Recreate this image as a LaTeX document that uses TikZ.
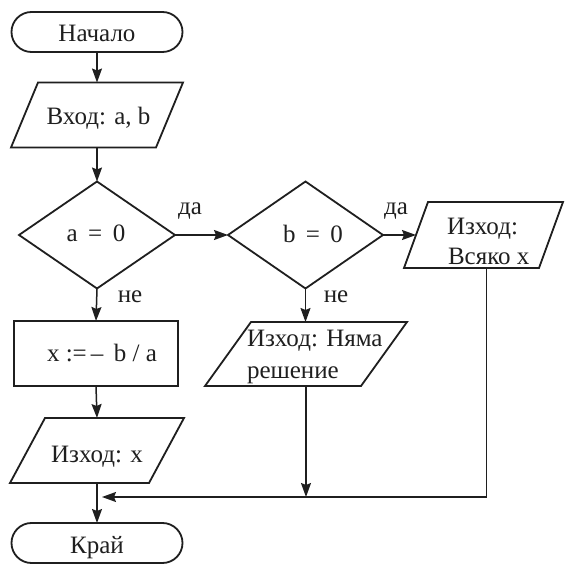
\documentclass[tikz,border=0pt]{standalone}
\usepackage{fontspec}
\setmainfont{Liberation Serif}
\usetikzlibrary{shapes.geometric,arrows.meta,calc}

% outline of an input/output block: a slanted box over the rectangle node #1
\newcommand\slantbox[2]{%
  \draw[ink] (#1.south west) -- ($(#1.north west)+(#2,0)$) -- (#1.north east)
    -- ($(#1.south east)-(#2,0)$) -- cycle;}

\begin{document}
\begin{tikzpicture}[x=1pt,y=-1pt,
  every node/.style={inner sep=0pt, outer sep=0pt},
  ink/.style={draw=black!88, line width=1.8pt},
  terminal/.style={ink, rectangle, rounded corners=20pt, minimum width=171pt, minimum height=40pt},
  process/.style={ink, rectangle, minimum width=164pt, minimum height=65pt},
  decision/.style={ink, diamond, minimum width=156pt, minimum height=107pt},
  iobox/.style={rectangle, minimum height=65pt},
  lbl/.style={anchor=base, font=\fontsize{25}{30}\selectfont, text=black!88},
  flow/.style={draw=black!88, line width=1.5pt, -{Stealth[length=14pt,width=10pt,inset=2pt]}},
]
\fill[white] (0,0) rectangle (571,564);
\path[use as bounding box] (0,0) rectangle (571,564);

% blocks
\node[terminal] (start) at (97,32) {};
\node[iobox, minimum width=172pt] (in) at (97,115) {};
\slantbox{in}{27}
\node[decision] (d1) at (97,235) {};
\node[decision, minimum width=155pt] (d2) at (305.5,235) {};
\node[iobox, minimum width=159pt, minimum height=66pt] (out3) at (483.5,235) {};
\slantbox{out3}{24}
\node[process] (calc) at (96,353.5) {};
\node[iobox, minimum width=202pt, minimum height=64pt] (out5) at (306,354) {};
\slantbox{out5}{46}
\node[iobox, minimum width=174pt] (outx) at (97,450.5) {};
\slantbox{outx}{35}
\node[terminal] (end) at (97,543) {};

% texts
\node[lbl] (tstart) at (97,42) {Начало};
\node[lbl] (tin) at (98.5,125) {Вход: a, b};
\node[lbl] (td1) at (96,242) {a\, =\, 0};
\node[lbl] (td2) at (313,243) {b\, =\, 0};
\node[lbl, anchor=base west] (tout3a) at (447,235) {Изход:};
\node[lbl, anchor=base west] (tout3b) at (448,265) {Всяко x};
\node[lbl] (tcalc) at (102,362) {x :=\,–\, b / a};
\node[lbl, anchor=base west] (tout5a) at (247,347) {Изход: Няма};
\node[lbl, anchor=base west] (tout5b) at (247,378) {решение};
\node[lbl] (toutx) at (97,462) {Изход: x};
\node[lbl] (tend) at (97,553) {Край};
\node[lbl] (yes1) at (190,215) {да};
\node[lbl] (no1) at (130,303) {не};
\node[lbl] (yes2) at (396,215) {да};
\node[lbl] (no2) at (336,303) {не};

% connectors
\coordinate (out3in) at ($(out3.west)+(12,0)$);
\coordinate (join) at (97,497);
\draw[flow] (start.south) -- (in.north);
\draw[flow] (in.south) -- (d1.north);
\draw[flow] (d1.east) -- (d2.west);
\draw[flow] (d2.east) -- (out3in);
\draw[flow] (d1.south) -- (calc.north);
\draw[flow] (calc.south) -- (outx.north);
\draw[flow] (outx.south) -- (end.north);
\draw[flow] (d2.south) -- (d2.south |- out5.north);
\draw[flow] (out5.south) -- (out5.south |- join);
\draw[flow, shorten >=5pt] ([xshift=3pt]out3.south) |- (join);
\end{tikzpicture}
\end{document}
